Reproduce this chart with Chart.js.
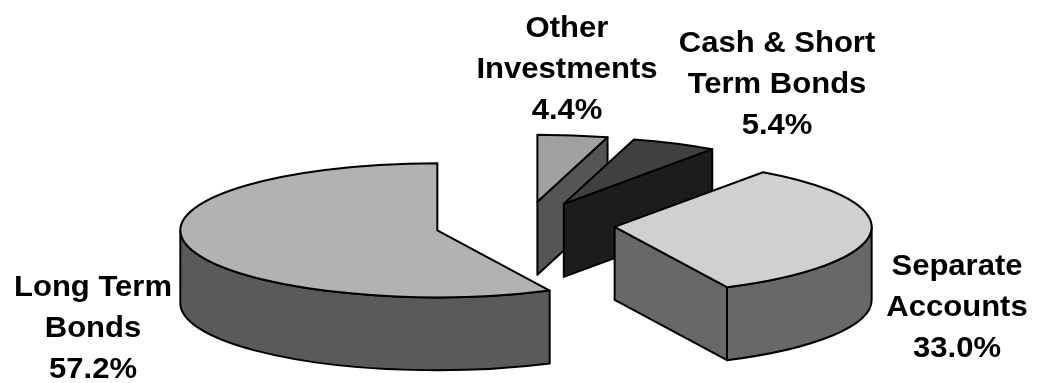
<!DOCTYPE html>
<html>
<head>
<meta charset="utf-8">
<script src="https://cdn.jsdelivr.net/npm/chart.js@4"></script>
<style>
  html, body { margin: 0; padding: 0; background: #fff; }
  #wrap { width: 1038px; height: 383px; }
</style>
</head>
<body>
<div id="wrap"><canvas id="myChart"></canvas></div>
<script>
const categories = [['Other', 'Investments'], ['Cash & Short', 'Term Bonds'], ['Separate', 'Accounts'], ['Long Term', 'Bonds']];
const shares = [4.4, 5.4, 33.0, 57.2];
const topColors = ['#a0a0a0', '#404040', '#d0d0d0', '#b2b2b2'];
const sideColors = ['#555555', '#1c1c1c', '#686868', '#5a5a5a'];

// where each label block sits (first baseline)
const labelSpots = [[567, 37], [777, 52], [957, 275], [93, 296]];

const pie3d = {
  id: 'pie3d',
  beforeDatasetsDraw(chart, args, opts) {
    const ctx = chart.ctx;
    const meta = chart.getDatasetMeta(0);
    const { rx, ry, depth, explode } = opts;
    const slices = meta.data.map((arc, i) => {
      const a0 = arc.startAngle, a1 = arc.endAngle, m = (a0 + a1) / 2;
      return {
        i, a0, a1, m,
        sx: arc.x + explode * rx * Math.cos(m),
        sy: arc.y + explode * ry * Math.sin(m)
      };
    });
    slices.sort((a, b) => Math.sin(a.m) - Math.sin(b.m));

    ctx.save();
    ctx.lineWidth = 2;
    ctx.lineJoin = 'round';
    ctx.strokeStyle = '#000';
    const pt = (s, t, dz = 0) => [s.sx + rx * Math.cos(t), s.sy + ry * Math.sin(t) + dz];
    const fillStroke = c => { ctx.fillStyle = c; ctx.fill(); ctx.stroke(); };

    for (const s of slices) {
      const side = sideColors[s.i];
      // radial faces
      const face = t => {
        const p = pt(s, t), q = pt(s, t, depth);
        ctx.beginPath();
        ctx.moveTo(s.sx, s.sy);
        ctx.lineTo(p[0], p[1]);
        ctx.lineTo(q[0], q[1]);
        ctx.lineTo(s.sx, s.sy + depth);
        ctx.closePath();
        fillStroke(side);
      };
      if (Math.cos(s.a0) < -1e-6) face(s.a0);
      if (Math.cos(s.a1) > 1e-6) face(s.a1);
      // outer wall, front half only
      for (let k = -1; k <= 1; k++) {
        const b0 = Math.max(s.a0, 2 * Math.PI * k);
        const b1 = Math.min(s.a1, 2 * Math.PI * k + Math.PI);
        if (b1 <= b0) continue;
        const p = pt(s, b0), q = pt(s, b1, depth);
        ctx.beginPath();
        ctx.moveTo(p[0], p[1]);
        ctx.ellipse(s.sx, s.sy, rx, ry, 0, b0, b1);
        ctx.lineTo(q[0], q[1]);
        ctx.ellipse(s.sx, s.sy + depth, rx, ry, 0, b1, b0, true);
        ctx.closePath();
        fillStroke(side);
      }
      // top
      const p = pt(s, s.a0);
      ctx.beginPath();
      ctx.moveTo(s.sx, s.sy);
      ctx.lineTo(p[0], p[1]);
      ctx.ellipse(s.sx, s.sy, rx, ry, 0, s.a0, s.a1);
      ctx.closePath();
      fillStroke(topColors[s.i]);
    }

    // labels (text a bit wide, like the original)
    ctx.fillStyle = '#000';
    ctx.font = 'bold 29px "Liberation Sans", Arial, sans-serif';
    ctx.textAlign = 'center';
    ctx.textBaseline = 'alphabetic';
    chart.data.labels.forEach((lab, i) => {
      const lines = [...lab, chart.data.datasets[0].data[i].toFixed(1) + '%'];
      const [x, y] = labelSpots[i];
      lines.forEach((t, j) => {
        ctx.save();
        ctx.translate(x, y + j * 41);
        ctx.scale(1.07, 1);
        ctx.fillText(t, 0, 0);
        ctx.restore();
      });
    });
    ctx.restore();
    return false;
  }
};

new Chart(document.getElementById('myChart'), {
  type: 'pie',
  data: {
    labels: categories,
    datasets: [{
      data: shares,
      backgroundColor: topColors,
      borderWidth: 0
    }]
  },
  options: {
    responsive: true,
    maintainAspectRatio: false,
    animation: false,
    layout: { padding: { left: 12, top: 67 } },
    plugins: {
      legend: { display: false },
      tooltip: { enabled: false },
      pie3d: { rx: 257, ry: 67, depth: 73, explode: 0.35 }
    }
  },
  plugins: [pie3d]
});
</script>
</body>
</html>
